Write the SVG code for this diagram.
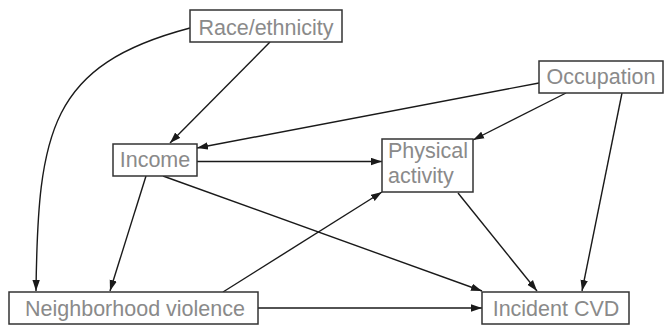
<svg xmlns="http://www.w3.org/2000/svg" width="665" height="328" viewBox="0 0 665 328">
<style>
.box{fill:#fff;stroke:#333;stroke-width:1.5}
.lbl{font-family:"Liberation Sans",Arial,sans-serif;font-size:21.5px;fill:#8a8a8a}
.edge{fill:none;stroke:#1a1a1a;stroke-width:1.4;marker-end:url(#ah)}
</style>
<defs>
<marker id="ah" markerUnits="userSpaceOnUse" markerWidth="12" markerHeight="8" refX="11" refY="4" orient="auto">
<path d="M0,0.3 L11,4 L0,7.7 z" fill="#1a1a1a"/>
</marker>
</defs>
<rect width="665" height="328" fill="#fff"/>
<g id="edges">
<path class="edge" d="M270,42 L170,143"/>
<path class="edge" d="M190,28 C50,65 38,130 36,291"/>
<path class="edge" d="M539,83 L197,148"/>
<path class="edge" d="M566,93 L473,140"/>
<path class="edge" d="M622,93 L582,291"/>
<path class="edge" d="M197,161.5 L382,161.5"/>
<path class="edge" d="M146,176 L110,291"/>
<path class="edge" d="M163,176 L482,291"/>
<path class="edge" d="M223,292 L382,192"/>
<path class="edge" d="M258,308 L482,308"/>
<path class="edge" d="M458,193 L537,291"/>
</g>
<g id="race">
<rect class="box" x="190" y="10" width="152" height="32"/>
<text class="lbl" x="266" y="35" text-anchor="middle">Race/ethnicity</text>
</g>
<g id="occupation">
<rect class="box" x="539" y="61" width="124" height="32"/>
<text class="lbl" x="601" y="84" text-anchor="middle">Occupation</text>
</g>
<g id="income">
<rect class="box" x="113" y="144" width="84" height="32"/>
<text class="lbl" x="155" y="167" text-anchor="middle">Income</text>
</g>
<g id="physical">
<rect class="box" x="382" y="139" width="91" height="53"/>
<text class="lbl" x="388" y="158">Physical</text>
<text class="lbl" x="388" y="183">activity</text>
</g>
<g id="violence">
<rect class="box" x="9" y="292" width="249" height="32"/>
<text class="lbl" x="135" y="316" text-anchor="middle">Neighborhood violence</text>
</g>
<g id="cvd">
<rect class="box" x="482" y="292" width="147" height="32"/>
<text class="lbl" x="556" y="316" text-anchor="middle">Incident CVD</text>
</g>
</svg>
